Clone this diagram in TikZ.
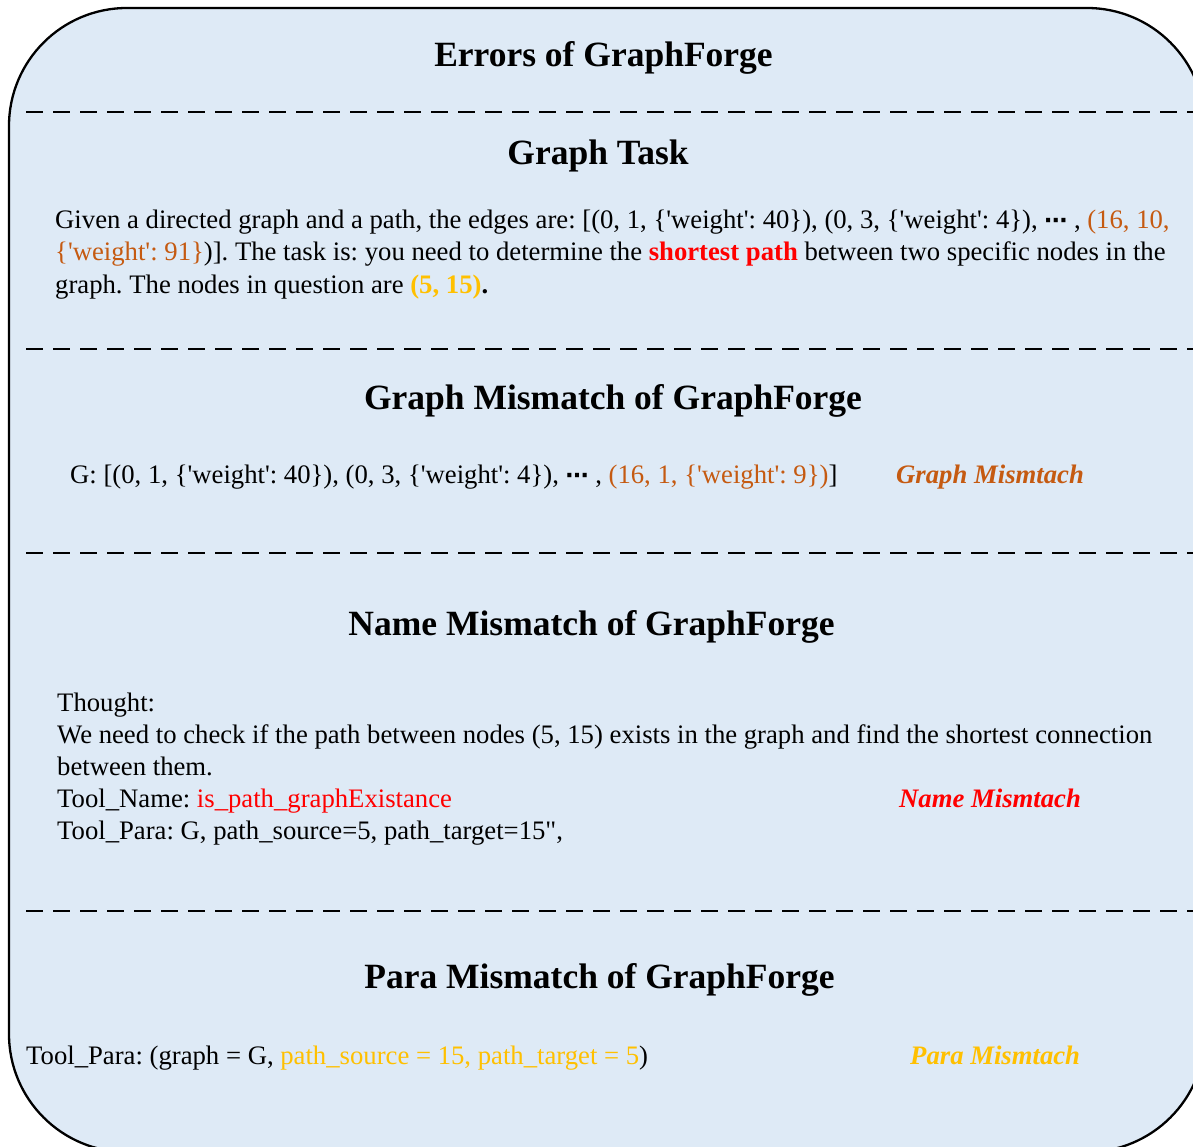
\documentclass[tikz,border=0pt]{standalone}
\usepackage{fontspec}
\setmainfont{Liberation Serif}
\newfontfamily\dotsfont{DejaVu Sans}
\definecolor{boxfill}{HTML}{DEEAF6}
\definecolor{orng}{HTML}{C55A11}
\definecolor{gold}{HTML}{FFC000}
\definecolor{redx}{HTML}{FF0000}
\newcommand{\sq}{\textquotesingle}
\newcommand{\mydots}{{\dotsfont\bfseries\fontsize{23}{28}\selectfont ⋯}}
\frenchspacing
\begin{document}
\begin{tikzpicture}[x=1pt,y=-1pt,
  body/.style={anchor=base west, inner sep=0pt, font=\fontsize{26.7}{32}\selectfont\frenchspacing},
  head/.style={anchor=base, inner sep=0pt, font=\fontsize{35.5}{40}\selectfont\bfseries},
  tag/.style={anchor=base west, inner sep=0pt, font=\fontsize{26.7}{32}\selectfont\bfseries\itshape},
  sepline/.style={line width=2.6pt, dash pattern=on 17pt off 10pt},
  frame/.style={draw=black, line width=2.3pt, fill=boxfill, rounded corners=118pt}]
\useasboundingbox (0,0) rectangle (1193,1147);
\clip (0,0) rectangle (1193,1147);
\draw[frame] (9,8) rectangle (1205,1152);
% separators
\coordinate (s1a) at (26,112); \coordinate (s1b) at (1200,112);
\coordinate (s2a) at (26,349); \coordinate (s2b) at (1200,349);
\coordinate (s3a) at (26,553); \coordinate (s3b) at (1200,553);
\coordinate (s4a) at (26,911); \coordinate (s4b) at (1200,911);
\draw[sepline] (s1a) -- (s1b);
\draw[sepline] (s2a) -- (s2b);
\draw[sepline] (s3a) -- (s3b);
\draw[sepline] (s4a) -- (s4b);
% headings
\node[head] (h0) at (603.5,67) {Errors of GraphForge};
\node[head] (h1) at (598,165) {Graph Task};
\node[head] (h2) at (613,409) {Graph Mismatch of GraphForge};
\node[head] (h3) at (591.5,635) {Name Mismatch of GraphForge};
\node[head] (h4) at (599.5,988) {Para Mismatch of GraphForge};
% graph task
\node[body] (t1) at (55,229) {Given a directed graph and a path, the edges are: [(0, 1, \{\sq weight\sq: 40\}), (0, 3, \{\sq weight\sq: 4\}), \mydots{} , \textcolor{orng}{(16, 10,}};
\node[body] (t2) at (55,261) {\textcolor{orng}{\{\sq weight\sq: 91\}})]. The task is: you need to determine the \textcolor{redx}{\textbf{shortest path}} between two specific nodes in the};
\node[body] (t3) at (55,294) {graph. The nodes in question are \textbf{\textcolor{gold}{(5, 15)}.}};
% graph mismatch
\node[body] (g1) at (70,483) {G: [(0, 1, \{\sq weight\sq: 40\}), (0, 3, \{\sq weight\sq: 4\}), \mydots{} , \textcolor{orng}{(16, 1, \{\sq weight\sq: 9\})}]};
\node[tag, text=orng] (g2) at (896,483) {Graph Mismtach};
% name mismatch
\node[body] (n1) at (57,711) {Thought:};
\node[body] (n2) at (57,743) {We need to check if the path between nodes (5, 15) exists in the graph and find the shortest connection};
\node[body] (n3) at (57,775) {between them.};
\node[body] (n4) at (57,807) {Tool\_Name: \textcolor{redx}{is\_path\_graphExistance}};
\node[body] (n5) at (57,839) {Tool\_Para: G, path\_source=5, path\_target=15\textquotedbl,};
\node[tag, text=redx] (n6) at (899,807) {Name Mismtach};
% para mismatch
\node[body] (p1) at (26,1064) {Tool\_Para: (graph = G, \textcolor{gold}{path\_source = 15, path\_target = 5})};
\node[tag, text=gold] (p2) at (910,1064) {Para Mismtach};
\end{tikzpicture}
\end{document}
